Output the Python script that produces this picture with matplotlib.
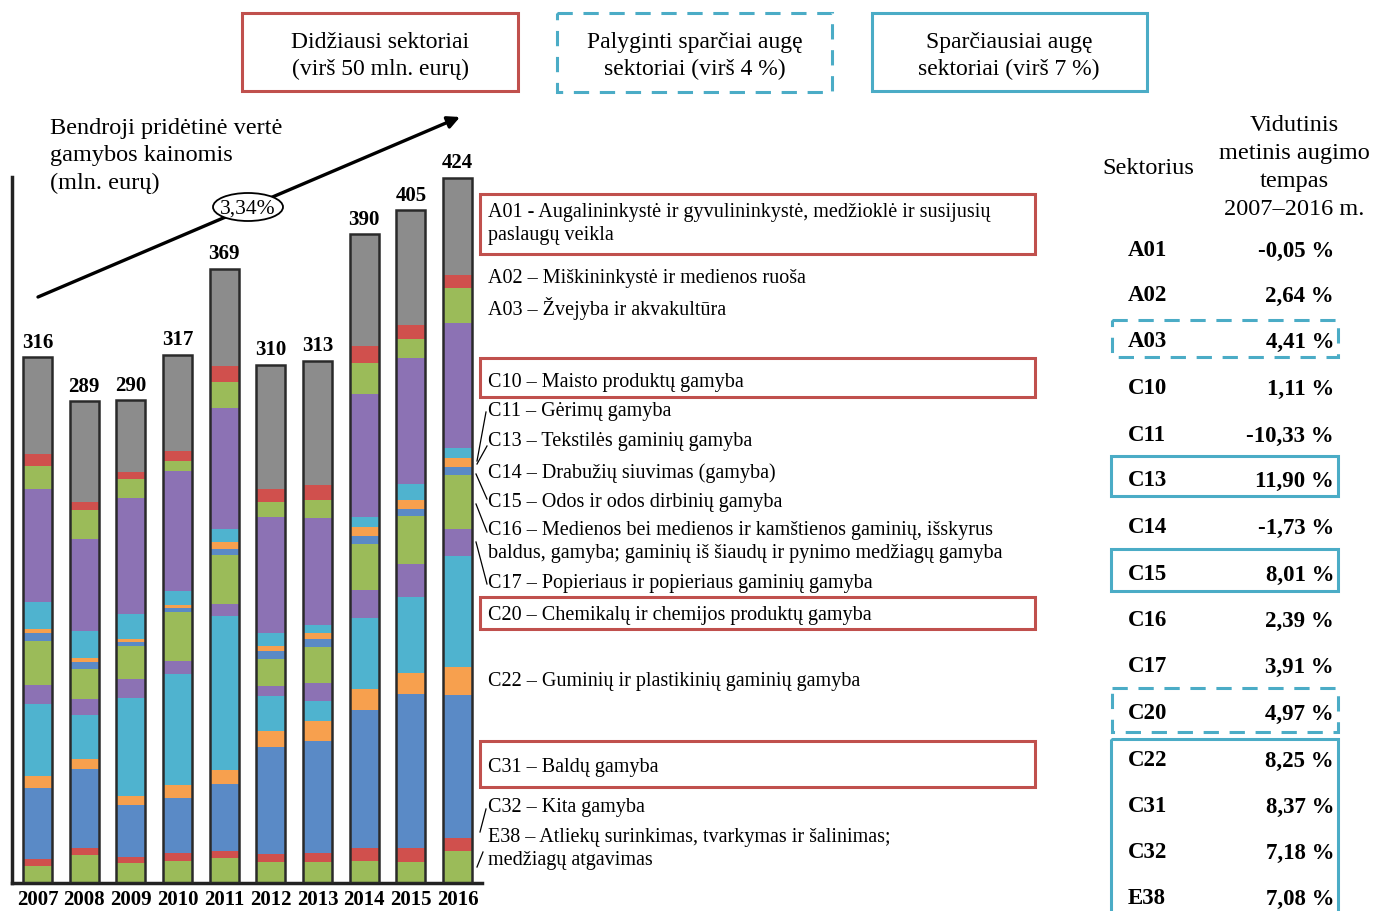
import matplotlib
matplotlib.use("Agg")
import matplotlib.pyplot as plt
import numpy as np
from matplotlib.patches import Rectangle, Ellipse, FancyArrowPatch

plt.rcParams['font.family'] = ['Liberation Serif', 'DejaVu Serif']

# ---------------- data ----------------
years = ["2007", "2008", "2009", "2010", "2011", "2012", "2013", "2014", "2015", "2016"]
totals = [316, 289, 290, 317, 369, 310, 313, 390, 405, 424]

# stacked segments, bottom -> top (mln. eur)
E38 = [10.2, 16.8, 12.0, 13.5, 15.0, 12.6, 12.6, 13.2, 12.6, 19.2]
C32 = [4.2, 4.2, 3.6, 4.5, 4.2, 4.8, 5.4, 8.1, 8.7, 7.8]
C31 = [42.6, 47.4, 31.2, 33.3, 40.2, 64.3, 67.3, 82.6, 92.2, 85.9]
C22 = [7.2, 6.0, 5.4, 7.5, 8.4, 9.6, 11.7, 12.6, 12.4, 16.9]
C20 = [43.2, 26.4, 59.2, 67.0, 92.5, 21.2, 12.4, 42.6, 45.6, 66.7]
C17 = [11.4, 9.6, 11.1, 7.8, 7.2, 5.6, 11.0, 16.8, 20.1, 16.0]
C16 = [26.4, 18.0, 19.8, 29.1, 29.4, 16.7, 21.4, 27.6, 28.8, 32.7]
C15 = [4.8, 4.2, 2.4, 2.7, 3.6, 4.6, 4.8, 4.8, 4.2, 4.5]
C13 = [2.4, 2.4, 1.8, 1.5, 4.2, 3.2, 3.4, 5.4, 5.4, 5.4]
C11 = [16.2, 16.2, 15.0, 8.4, 7.8, 7.3, 5.0, 6.0, 9.6, 6.0]
C10 = [67.9, 55.3, 70.0, 72.4, 73.0, 70.0, 64.3, 73.9, 75.7, 75.4]
A03 = [13.8, 17.4, 11.1, 6.0, 15.3, 9.0, 10.8, 18.6, 11.4, 21.0]
A02 = [7.2, 4.8, 4.4, 5.7, 9.6, 7.8, 9.2, 10.4, 8.4, 7.8]
A01 = [58.3, 60.7, 43.0, 57.7, 58.5, 74.5, 74.2, 67.1, 69.0, 58.3]

series = [E38, C32, C31, C22, C20, C17, C16, C15, C13, C11, C10, A03, A02, A01]
colors = ["#9bbb59", "#d0504d", "#5a8ac6", "#f7a04e", "#4fb3cf", "#8c72b4",
          "#9bbb59", "#5a8ac6", "#f7a04e", "#4fb3cf", "#8c72b4", "#9bbb59",
          "#d0504d", "#8c8c8c"]

legend_items = [
    ("A01 - Augalininkystė ir gyvulininkystė, medžioklė ir susijusių\npaslaugų veikla", 224),
    ("A02 – Miškininkystė ir medienos ruoša", 279),
    ("A03 – Žvejyba ir akvakultūra", 309),
    ("C10 – Maisto produktų gamyba", 383),
    ("C11 – Gėrimų gamyba", 412),
    ("C13 – Tekstilės gaminių gamyba", 442),
    ("C14 – Drabužių siuvimas (gamyba)", 473),
    ("C15 – Odos ir odos dirbinių gamyba", 503),
    ("C16 – Medienos bei medienos ir kamštienos gaminių, išskyrus\nbaldus, gamyba; gaminių iš šiaudų ir pynimo medžiagų gamyba", 542),
    ("C17 – Popieriaus ir popieriaus gaminių gamyba", 584),
    ("C20 – Chemikalų ir chemijos produktų gamyba", 616),
    ("C22 – Guminių ir plastikinių gaminių gamyba", 682),
    ("C31 – Baldų gamyba", 768),
    ("C32 – Kita gamyba", 808),
    ("E38 – Atliekų surinkimas, tvarkymas ir šalinimas;\nmedžiagų atgavimas", 849),
]

table_codes = ["A01", "A02", "A03", "C10", "C11", "C13", "C14", "C15", "C16",
               "C17", "C20", "C22", "C31", "C32", "E38"]
table_rates = ["-0,05 %", "2,64 %", "4,41 %", "1,11 %", "-10,33 %", "11,90 %",
               "-1,73 %", "8,01 %", "2,39 %", "3,91 %", "4,97 %", "8,25 %",
               "8,37 %", "7,18 %", "7,08 %"]
table_y = [251, 296, 342, 389, 436, 481, 528, 575, 621, 667, 714, 761, 807, 853, 899]

trend_label = "3,34%"

# ---------------- figure ----------------
W, H = 1373, 912
fig = plt.figure(figsize=(W / 100, H / 100), dpi=100)

# overlay axes in pixel coordinates
ov = fig.add_axes([0, 0, 1, 1])
ov.set_xlim(0, W)
ov.set_ylim(H, 0)
ov.axis("off")

# bar axes
x0, x1, yb, yt = 12, 482, 884, 178
ax = fig.add_axes([x0 / W, (H - yb) / H, (x1 - x0) / W, (yb - yt) / H])
ax.set_xlim(-0.546, 9.524)
ax.set_ylim(0, 424)
ax.patch.set_alpha(0)
x = np.arange(len(years))
bottom = np.zeros(len(years))
for vals, c in zip(series, colors):
    ax.bar(x, vals, bottom=bottom, width=0.62, color=c, edgecolor="none", zorder=2)
    bottom += np.array(vals)
# bar outlines
ax.bar(x, bottom, width=0.62, facecolor="none", edgecolor="#2a2a2a", linewidth=1.8, zorder=3)
for xi, t, tv in zip(x, bottom, totals):
    ax.annotate(str(tv), (xi, t), xytext=(0, 4), textcoords="offset points",
                ha="center", va="bottom", fontsize=15, fontweight="bold", annotation_clip=False)
ax.set_xticks(x)
ax.set_xticklabels(years, fontsize=15, fontweight="bold")
ax.tick_params(axis="x", length=0, pad=4)
ax.set_yticks([])
for s in ["top", "right"]:
    ax.spines[s].set_visible(False)
ax.spines["left"].set_linewidth(2.5)
ax.spines["bottom"].set_linewidth(2.5)
ax.spines["left"].set_color("#222222")
ax.spines["bottom"].set_color("#222222")

# title
ov.text(50, 156, "Bendroji pridėtinė vertė\ngamybos kainomis\n(mln. eurų)", fontsize=17.5,
        ha="left", va="center", linespacing=1.37)

# trend arrow
arr = FancyArrowPatch((38, 298), (460, 118), arrowstyle="-|>", mutation_scale=18,
                      color="black", linewidth=2.4, zorder=5, shrinkA=0, shrinkB=0)
ov.add_patch(arr)
ov.add_patch(Ellipse((248, 208), 70, 28, facecolor="white", edgecolor="black", linewidth=1.3, zorder=6))
ov.text(248, 209, trend_label, fontsize=15.5, ha="center", va="center", zorder=7)

# top header boxes
red = "#c0504d"
cyan = "#4bacc6"
ov.add_patch(Rectangle((242, 14), 276, 78, fill=False, edgecolor=red, linewidth=2.2))
ov.text(380, 56, "Didžiausi sektoriai\n(virš 50 mln. eurų)", fontsize=17, ha="center",
        va="center", linespacing=1.4)
ov.add_patch(Rectangle((557, 14), 275, 79, fill=False, edgecolor=cyan, linewidth=2.2,
                       linestyle=(0, (5, 3.5))))
ov.text(695, 56, "Palyginti sparčiai augę\nsektoriai (virš 4 %)", fontsize=17, ha="center",
        va="center", linespacing=1.4)
ov.add_patch(Rectangle((872, 14), 275, 78, fill=False, edgecolor=cyan, linewidth=2.2))
ov.text(1009, 56, "Sparčiausiai augę\nsektoriai (virš 7 %)", fontsize=17, ha="center",
        va="center", linespacing=1.4)

# legend descriptions
for txt, yy in legend_items:
    ov.text(488, yy, txt, fontsize=14.5, ha="left", va="center", linespacing=1.22)
for (bx, by, bh) in [(480, 195, 60), (480, 359, 39), (480, 598, 32), (480, 742, 46)]:
    ov.add_patch(Rectangle((bx, by), 555, bh, fill=False, edgecolor=red, linewidth=2.2))
for (xa, ya, xb, yb2) in [(486, 413, 477, 462), (487, 447, 477, 465), (476, 475, 487, 500),
                          (476, 505, 487, 533), (476, 543, 487, 585), (486, 810, 480, 833),
                          (483, 853, 477, 868)]:
    ov.plot([xa, xb], [ya, yb2], color="black", linewidth=0.9)

# right table
ov.text(1148, 169, "Sektorius", fontsize=17.5, ha="center", va="center")
ov.text(1294, 167.5, "Vidutinis\nmetinis augimo\ntempas\n2007–2016 m.", fontsize=17.5,
        ha="center", va="center", linespacing=1.42)
for code, rate, yy in zip(table_codes, table_rates, table_y):
    ov.text(1128, yy, code, fontsize=16.5, ha="left", va="center", fontweight="bold")
    ov.text(1334, yy, rate, fontsize=16.5, ha="right", va="center", fontweight="bold")
dash = (0, (5, 3.5))
ov.add_patch(Rectangle((1112, 321), 226, 37, fill=False, edgecolor=cyan, linewidth=2.2, linestyle=dash))
ov.add_patch(Rectangle((1111, 457), 227, 40, fill=False, edgecolor=cyan, linewidth=2.2))
ov.add_patch(Rectangle((1111, 550), 227, 42, fill=False, edgecolor=cyan, linewidth=2.2))
ov.add_patch(Rectangle((1112, 689), 226, 44, fill=False, edgecolor=cyan, linewidth=2.2, linestyle=dash))
ov.add_patch(Rectangle((1111, 740), 227, 200, fill=False, edgecolor=cyan, linewidth=2.2))

fig.savefig("out.png", dpi=100)
